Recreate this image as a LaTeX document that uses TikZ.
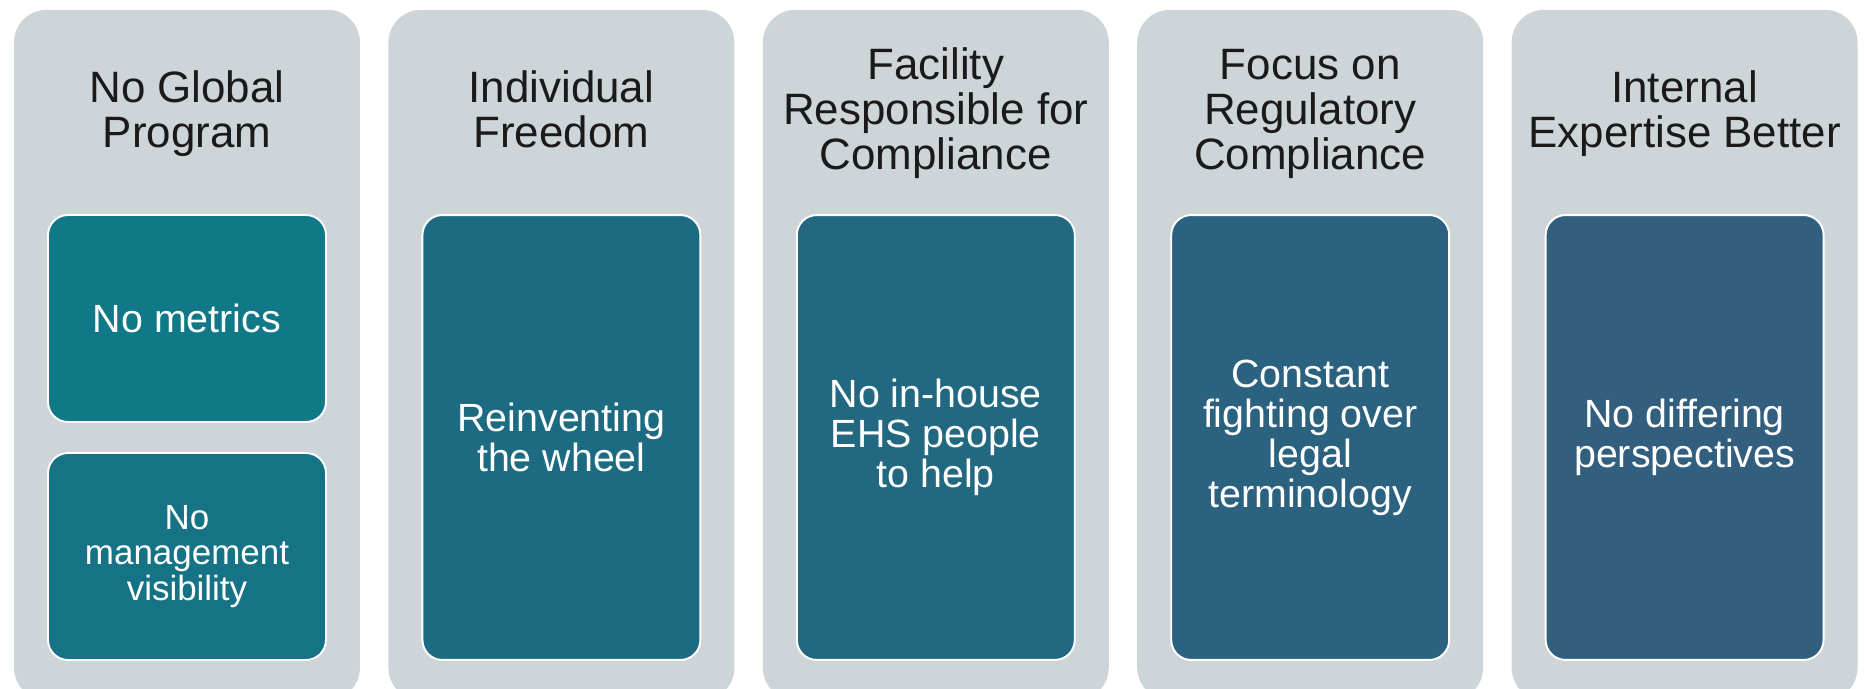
\documentclass[tikz,border=0pt]{standalone}
\usepackage{fontspec}
\setmainfont{Liberation Sans}
\usetikzlibrary{positioning}

\definecolor{panelgray}{HTML}{CDD5D8}
\definecolor{headink}{HTML}{1A1A1A}
\definecolor{tealA}{HTML}{0F7987}
\definecolor{tealB}{HTML}{157385}
\definecolor{tealC}{HTML}{1C6B82}
\definecolor{tealD}{HTML}{236881}
\definecolor{tealE}{HTML}{2A627F}
\definecolor{tealF}{HTML}{335F7E}

\tikzset{
  panel/.style={fill=panelgray, rounded corners=0.65cm, minimum width=6.92cm,
    minimum height=13.81cm, anchor=north, inner sep=0pt},
  heading/.style={text=headink, align=center, inner sep=0pt,
    font=\fontsize{25}{25.6}\selectfont},
  cell/.style={draw=white, line width=1.1pt, rounded corners=0.4cm,
    minimum width=5.56cm, minimum height=8.9cm, align=center, text=white,
    inner sep=0pt, font=\fontsize{22.4}{22.8}\selectfont},
  smallcell/.style={cell, minimum height=4.14cm},
}

\begin{document}
\begin{tikzpicture}[x=0.02cm, y=-0.02cm]
    \useasboundingbox (0,0) rectangle (1864,689);

    % grey columns
    \node [panel] (p1) at (187,9.5) {};
    \node [panel] (p2) at (561.4,9.5) {};
    \node [panel] (p3) at (935.8,9.5) {};
    \node [panel] (p4) at (1310.2,9.5) {};
    \node [panel] (p5) at (1684.6,9.5) {};

    % headings
    \node [heading] (h1) at ([yshift=-2.08cm]p1.north) {No Global\\Program};
    \node [heading] (h2) at ([yshift=-1.99cm]p2.north) {Individual\\Freedom};
    \node [heading] (h3) at ([yshift=-2.08cm]p3.north) {Facility\\Responsible for\\Compliance};
    \node [heading] (h4) at ([yshift=-2.08cm]p4.north) {Focus on\\Regulatory\\Compliance};
    \node [heading] (h5) at ([yshift=-2.08cm]p5.north) {Internal\\Expertise Better};

    % boxes
    \node [smallcell, fill=tealA] (m1) at (187,318.5) {No metrics};
    \node [smallcell, fill=tealB, font=\fontsize{19.9}{20.3}\selectfont] (v1) at (187,556.5)
        {No\\management\\visibility};
    \node [cell, fill=tealC] (r2) at (561.4,437.5) {Reinventing\\the wheel};
    \node [cell, fill=tealD] (e3) at (935.8,437.5) {No in-house\\EHS people\\to help};
    \node [cell, fill=tealE] (c4) at (1310.2,437.5) {Constant\\fighting over\\legal\\terminology};
    \node [cell, fill=tealF] (d5) at (1684.6,437.5) {No differing\\perspectives};
\end{tikzpicture}
\end{document}
